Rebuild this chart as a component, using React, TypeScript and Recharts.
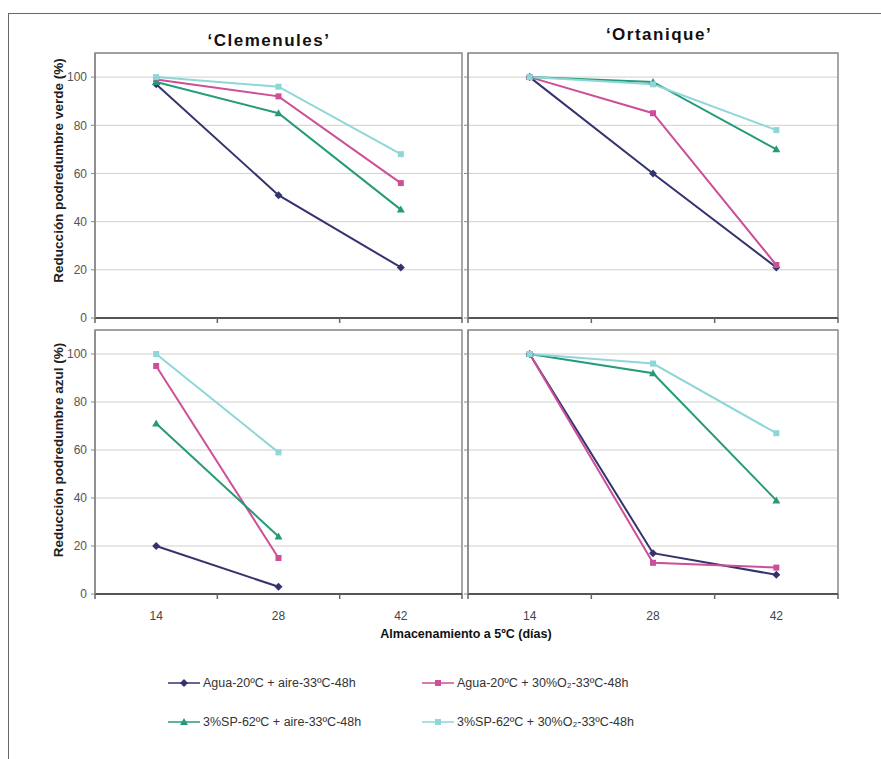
import React from 'react';
import { LineChart, Line, XAxis, YAxis, CartesianGrid, ReferenceArea, Label } from 'recharts';

const days = [14, 28, 42];
const xTicks = [7, 14, 21, 28, 35, 42, 49];
const yTicks = [0, 20, 40, 60, 80, 100];

// 'Clemenules' - podredumbre verde
const clemVerdeAguaAire = [97, 51, 21];
const clemVerdeAguaO2 = [99, 92, 56];
const clemVerdeSpAire = [98, 85, 45];
const clemVerdeSpO2 = [100, 96, 68];

// 'Ortanique' - podredumbre verde
const ortVerdeAguaAire = [100, 60, 21];
const ortVerdeAguaO2 = [100, 85, 22];
const ortVerdeSpAire = [100, 98, 70];
const ortVerdeSpO2 = [100, 97, 78];

// 'Clemenules' - podredumbre azul (no data at 42 days)
const clemAzulAguaAire = [20, 3, null];
const clemAzulAguaO2 = [95, 15, null];
const clemAzulSpAire = [71, 24, null];
const clemAzulSpO2 = [100, 59, null];

// 'Ortanique' - podredumbre azul
const ortAzulAguaAire = [100, 17, 8];
const ortAzulAguaO2 = [100, 13, 11];
const ortAzulSpAire = [100, 92, 39];
const ortAzulSpO2 = [100, 96, 67];

const seriesNames = [
  'Agua-20ºC + aire-33ºC-48h',
  'Agua-20ºC + 30%O₂-33ºC-48h',
  '3%SP-62ºC + aire-33ºC-48h',
  '3%SP-62ºC + 30%O₂-33ºC-48h',
];
const seriesColors = ['#34336f', '#cc4f97', '#259b7a', '#8fd6d8'];
const seriesShapes = ['diamond', 'square', 'triangle', 'square'];

const FONT = "'Liberation Sans', Arial, sans-serif";

const toRows = (a: (number | null)[], b: (number | null)[], c: (number | null)[], d: (number | null)[]) =>
  days.map((day, i) => ({ day, s0: a[i], s1: b[i], s2: c[i], s3: d[i] }));

function Marker({ cx, cy, shape, color }: any) {
  if (cx == null || cy == null || isNaN(cy)) return <g />;
  if (shape === 'diamond') {
    return <polygon points={`${cx},${cy - 4} ${cx + 4},${cy} ${cx},${cy + 4} ${cx - 4},${cy}`} fill={color} />;
  }
  if (shape === 'triangle') {
    return <polygon points={`${cx},${cy - 4} ${cx + 4},${cy + 3} ${cx - 4},${cy + 3}`} fill={color} />;
  }
  return <rect x={cx - 3} y={cy - 3} width={6} height={6} fill={color} />;
}

function XTick({ x, y, payload, showLabel }: any) {
  const axisY = y - 10; // tickSize 5 + tickMargin 5
  if (days.includes(payload.value)) {
    if (!showLabel) return <g />;
    return (
      <text x={x} y={axisY + 26} textAnchor="middle" fontSize={12} fill="#444">
        {payload.value}
      </text>
    );
  }
  return <line x1={x} x2={x} y1={axisY} y2={axisY + 5} stroke="#666" strokeWidth={1.5} />;
}

function YLabel({ viewBox, value, shift }: any) {
  const cx = viewBox.x + 23;
  const cy = viewBox.y + viewBox.height / 2 + shift;
  return (
    <text
      x={cx}
      y={cy}
      transform={`rotate(-90, ${cx}, ${cy})`}
      textAnchor="middle"
      dominantBaseline="central"
      fontSize={13.5}
      fontWeight="bold"
      fill="#222"
    >
      {value}
    </text>
  );
}

interface PanelProps {
  left: number;
  top: number;
  plotW: number;
  plotH: number;
  rows: any[];
  yLabel?: string;
  yShift?: number;
  xLabels: boolean;
}

function Panel({ left, top, plotW, plotH, rows, yLabel, yShift = 0, xLabels }: PanelProps) {
  const yw = yLabel ? 60 : 8;
  const xh = xLabels ? 35 : 8;
  return (
    <div style={{ position: 'absolute', left: left - yw, top: top - 3 }}>
      <LineChart
        width={yw + plotW + 3}
        height={3 + plotH + xh}
        data={rows}
        margin={{ top: 3, right: 3, bottom: 0, left: 0 }}
      >
        <CartesianGrid vertical={false} stroke="#cfcfcf" />
        <ReferenceArea x1={7} x2={49} y1={0} y2={110} fill="none" stroke="#8a8a8a" strokeWidth={1.5} />
        <XAxis
          type="number"
          dataKey="day"
          domain={[7, 49]}
          ticks={xTicks}
          height={xh}
          tickSize={5}
          tickMargin={5}
          tickLine={false}
          axisLine={{ stroke: '#555', strokeWidth: 2 }}
          tick={(p: any) => <XTick {...p} showLabel={xLabels} />}
          interval={0}
        />
        <YAxis
          type="number"
          domain={[0, 110]}
          ticks={yTicks}
          width={yw}
          tickSize={4}
          tickMargin={4}
          interval={0}
          axisLine={{ stroke: '#888', strokeWidth: 1.5 }}
          tickLine={{ stroke: '#888' }}
          tick={yLabel ? { fontSize: 12, fill: '#555' } : () => <g />}
        >
          {yLabel && <Label content={(p: any) => <YLabel {...p} value={yLabel} shift={yShift} />} />}
        </YAxis>
        {seriesColors.map((color, i) => (
          <Line
            key={i}
            type="linear"
            dataKey={`s${i}`}
            stroke={color}
            strokeWidth={2}
            dot={(p: any) => <Marker key={`${i}-${p.index}`} cx={p.cx} cy={p.cy} shape={seriesShapes[i]} color={color} />}
            activeDot={false}
            isAnimationActive={false}
          />
        ))}
      </LineChart>
    </div>
  );
}

function LegendItem({ index, left, top }: { index: number; left: number; top: number }) {
  return (
    <div style={{ position: 'absolute', left, top, display: 'flex', alignItems: 'center', height: 14 }}>
      <svg width={32} height={12} style={{ marginRight: 3 }}>
        <line x1={0} x2={32} y1={6} y2={6} stroke={seriesColors[index]} strokeWidth={1.5} />
        <Marker cx={16} cy={6} shape={seriesShapes[index]} color={seriesColors[index]} />
      </svg>
      <span style={{ fontSize: 12.5, color: '#333', whiteSpace: 'nowrap' }}>{seriesNames[index]}</span>
    </div>
  );
}

export default function App() {
  return (
    <div
      style={{
        position: 'absolute',
        left: 0,
        top: 0,
        width: 881,
        height: 759,
        background: '#fff',
        fontFamily: FONT,
        overflow: 'hidden',
      }}
    >
      <div
        style={{
          position: 'absolute',
          left: 8,
          top: 13,
          width: 873,
          height: 746,
          borderTop: '1px solid #666',
          borderLeft: '1px solid #666',
        }}
      />
      <div
        style={{
          position: 'absolute', left: 169, top: 32, width: 200, textAlign: 'center',
          fontSize: 17, fontWeight: 'bold', letterSpacing: 1.5, lineHeight: 1, color: '#111',
        }}
      >
        ‘Clemenules’
      </div>
      <div
        style={{
          position: 'absolute', left: 559, top: 26, width: 200, textAlign: 'center',
          fontSize: 17, fontWeight: 'bold', letterSpacing: 1.5, lineHeight: 1, color: '#111',
        }}
      >
        ‘Ortanique’
      </div>

      <Panel
        left={95}
        top={53}
        plotW={367}
        plotH={265}
        rows={toRows(clemVerdeAguaAire, clemVerdeAguaO2, clemVerdeSpAire, clemVerdeSpO2)}
        yLabel="Reducción podredumbre verde (%)"
        yShift={-15}
        xLabels={false}
      />
      <Panel
        left={468}
        top={53}
        plotW={370}
        plotH={265}
        rows={toRows(ortVerdeAguaAire, ortVerdeAguaO2, ortVerdeSpAire, ortVerdeSpO2)}
        xLabels={false}
      />
      <Panel
        left={95}
        top={330}
        plotW={367}
        plotH={264}
        rows={toRows(clemAzulAguaAire, clemAzulAguaO2, clemAzulSpAire, clemAzulSpO2)}
        yLabel="Reducción podredumbre azul (%)"
        yShift={-12}
        xLabels={true}
      />
      <Panel
        left={468}
        top={330}
        plotW={370}
        plotH={264}
        rows={toRows(ortAzulAguaAire, ortAzulAguaO2, ortAzulSpAire, ortAzulSpO2)}
        xLabels={true}
      />

      <div
        style={{
          position: 'absolute', left: 316, top: 628, width: 300, textAlign: 'center',
          fontSize: 12.5, fontWeight: 'bold', lineHeight: 1, color: '#111',
        }}
      >
        Almacenamiento a 5ºC (días)
      </div>

      <LegendItem index={0} left={168} top={676} />
      <LegendItem index={1} left={422} top={676} />
      <LegendItem index={2} left={168} top={715} />
      <LegendItem index={3} left={422} top={715} />
    </div>
  );
}
